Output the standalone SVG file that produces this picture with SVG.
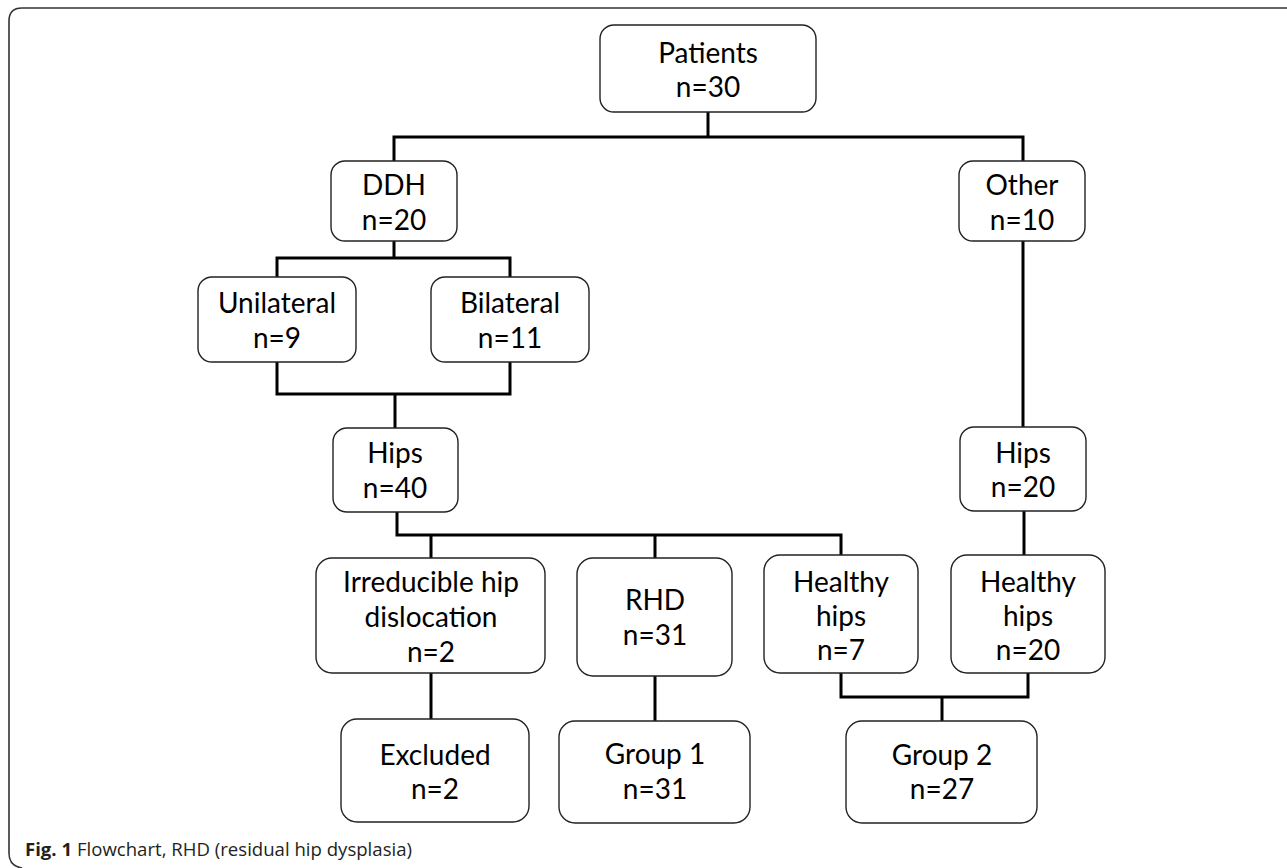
<svg xmlns="http://www.w3.org/2000/svg" width="1287" height="868" viewBox="0 0 1287 868">
<style>
.box{fill:#fff;stroke:#222;stroke-width:1.4}
.t{font-family:Lato,"Open Sans","Liberation Sans",sans-serif;font-size:28px;fill:#000;text-anchor:middle}
.c{fill:none;stroke:#000;stroke-width:3;stroke-linejoin:miter;stroke-linecap:butt}
.cap{font-family:"Open Sans","Liberation Sans",sans-serif;font-size:18px;fill:#231f20}
</style>
<rect width="1287" height="868" fill="#fff"/>
<path d="M1287,8 H22 Q9,8 9,21 V853 Q9,866 22,868" fill="none" stroke="#333" stroke-width="1.6"/>
<g id="connectors">
<path class="c" d="M708,112 V137 M394,161 V137 H1023 V161"/>
<path class="c" d="M394,241 V258 M277,277 V258 H510 V277"/>
<path class="c" d="M277,362 V394 H510 V362 M395,394 V428"/>
<path class="c" d="M1023,241 V427"/>
<path class="c" d="M397,512 V535 H841 V555 M431,535 V558 M655,535 V558"/>
<path class="c" d="M1024,511 V555"/>
<path class="c" d="M431,673 V719"/>
<path class="c" d="M655,676 V721"/>
<path class="c" d="M841,673 V697 H1028 V673 M942,697 V721"/>
</g>
<g id="patients"><rect class="box" x="600" y="25" width="216" height="87" rx="14"/><text class="t" x="708" y="63">Patients</text><text class="t" x="708" y="97">n=30</text></g>
<g id="ddh"><rect class="box" x="331" y="161" width="126" height="80" rx="14"/><text class="t" x="394" y="195">DDH</text><text class="t" x="394" y="230">n=20</text></g>
<g id="other"><rect class="box" x="959" y="161" width="126" height="80" rx="14"/><text class="t" x="1022" y="195">Other</text><text class="t" x="1022" y="230">n=10</text></g>
<g id="unilateral"><rect class="box" x="198" y="277" width="158" height="85" rx="14"/><text class="t" x="277" y="313">Unilateral</text><text class="t" x="277" y="348">n=9</text></g>
<g id="bilateral"><rect class="box" x="431" y="277" width="158" height="85" rx="14"/><text class="t" x="510" y="313">Bilateral</text><text class="t" x="510" y="348">n=11</text></g>
<g id="hips40"><rect class="box" x="333" y="428" width="125" height="84" rx="14"/><text class="t" x="395" y="463">Hips</text><text class="t" x="395" y="498">n=40</text></g>
<g id="hips20"><rect class="box" x="960" y="427" width="126" height="84" rx="14"/><text class="t" x="1023" y="463">Hips</text><text class="t" x="1023" y="497">n=20</text></g>
<g id="irreducible"><rect class="box" x="316" y="558" width="229" height="115" rx="16"/><text class="t" x="431" y="592">Irreducible hip</text><text class="t" x="431" y="627">dislocation</text><text class="t" x="431" y="662">n=2</text></g>
<g id="rhd"><rect class="box" x="577" y="558" width="155" height="118" rx="16"/><text class="t" x="655" y="610">RHD</text><text class="t" x="655" y="645">n=31</text></g>
<g id="healthy7"><rect class="box" x="764" y="555" width="154" height="118" rx="16"/><text class="t" x="841" y="592">Healthy</text><text class="t" x="841" y="626">hips</text><text class="t" x="841" y="660">n=7</text></g>
<g id="healthy20"><rect class="box" x="951" y="555" width="154" height="118" rx="16"/><text class="t" x="1028" y="592">Healthy</text><text class="t" x="1028" y="626">hips</text><text class="t" x="1028" y="660">n=20</text></g>
<g id="excluded"><rect class="box" x="341" y="719" width="188" height="103" rx="16"/><text class="t" x="435" y="765">Excluded</text><text class="t" x="435" y="799">n=2</text></g>
<g id="group1"><rect class="box" x="559" y="721" width="191" height="102" rx="16"/><text class="t" x="655" y="764">Group 1</text><text class="t" x="655" y="799">n=31</text></g>
<g id="group2"><rect class="box" x="846" y="721" width="191" height="102" rx="16"/><text class="t" x="942" y="765">Group 2</text><text class="t" x="942" y="799">n=27</text></g>
<text class="cap" x="25" y="856" textLength="387" lengthAdjust="spacingAndGlyphs"><tspan font-weight="bold">Fig. 1</tspan> Flowchart, RHD (residual hip dysplasia)</text>
</svg>
